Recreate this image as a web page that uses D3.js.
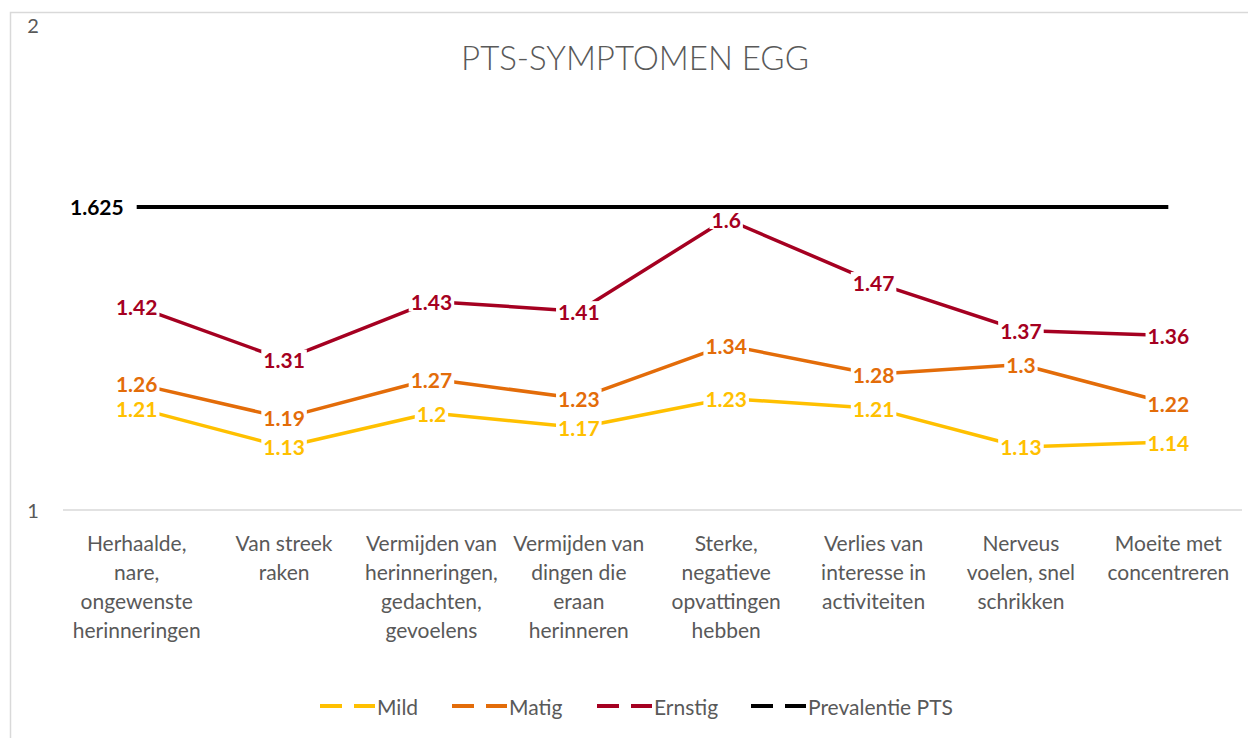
<!DOCTYPE html>
<html>
<head>
<meta charset="utf-8">
<script src="https://cdn.jsdelivr.net/npm/d3@7"></script>
<style>
body{margin:0;background:#fff;}
svg{display:block;font-family:Lato,'Open Sans',sans-serif;}
</style>
</head>
<body>
<div id="canvas"></div>
<script>
// category labels, already broken into lines as in the chart
let categories = [
	['Herhaalde,', 'nare,', 'ongewenste', 'herinneringen'],
	['Van streek', 'raken'],
	['Vermijden van', 'herinneringen,', 'gedachten,', 'gevoelens'],
	['Vermijden van', 'dingen die', 'eraan', 'herinneren'],
	['Sterke,', 'negatieve', 'opvattingen', 'hebben'],
	['Verlies van', 'interesse in', 'activiteiten'],
	['Nerveus', 'voelen, snel', 'schrikken'],
	['Moeite met', 'concentreren']
];
let mild = [1.21, 1.13, 1.2, 1.17, 1.23, 1.21, 1.13, 1.14],
matig = [1.26, 1.19, 1.27, 1.23, 1.34, 1.28, 1.3, 1.22],
ernstig = [1.42, 1.31, 1.43, 1.41, 1.6, 1.47, 1.37, 1.36],
prevalentie = [1.625, 1.625, 1.625, 1.625, 1.625, 1.625, 1.625, 1.625];
let yTicks = [1, 2];
let seriesNames = ['Mild', 'Matig', 'Ernstig', 'Prevalentie PTS'];

let W = 1248, H = 738,
colors = ['#ffc000', '#e36c09', '#a50021', '#000000'],
axisGray = '#595959';

let canvas = d3.select('#canvas').append('svg').attr('width', W).attr('height', H);

// chart border
canvas.append('rect')
.attr('x', 10.5).attr('y', 12.5)
.attr('width', W).attr('height', H)
.style('fill', 'white').style('stroke', '#d9d9d9').style('stroke-width', 1.5);

let x = d3.scaleBand().domain(d3.range(categories.length)).range([63, 1242]),
y = d3.scaleLinear().domain([1, 2]).range([510, 25]);

// title
canvas.append('text')
.attr('x', 635).attr('y', 57)
.attr('text-anchor', 'middle').attr('dominant-baseline', 'central')
.style('font-size', '33px').style('font-weight', 300).style('fill', axisGray)
.text('PTS-SYMPTOMEN EGG');

// y tick labels
canvas.selectAll('.ytick').data(yTicks).enter().append('text')
.attr('x', 33).attr('y', d=>y(d))
.attr('text-anchor', 'middle').attr('dominant-baseline', 'central')
.style('font-size', '20px').style('fill', axisGray)
.text(d=>d);

// category axis line
canvas.append('line')
.attr('x1', x.range()[0]).attr('x2', x.range()[1])
.attr('y1', y(1)).attr('y2', y(1))
.style('stroke', '#d9d9d9').style('stroke-width', 1.5);

// category labels
let cat = canvas.selectAll('.cat').data(categories).enter().append('text')
.attr('text-anchor', 'middle')
.style('font-size', '21px').style('fill', axisGray);
cat.each(function(lines, i){
	d3.select(this).selectAll('tspan').data(lines).enter().append('tspan')
	.attr('x', x(i) + x.bandwidth()/2)
	.attr('y', (d, j)=>542 + j * 29)
	.attr('dominant-baseline', 'central')
	.text(d=>d);
});

let series = [mild, matig, ernstig, prevalentie],
cx = i=>x(i) + x.bandwidth()/2;

let line = d3.line().x((d, i)=>cx(i)).y(d=>y(d));

canvas.selectAll('.serie').data(series).enter().append('path')
.attr('d', d=>line(d))
.style('fill', 'none')
.style('stroke', (d, i)=>colors[i])
.style('stroke-width', (d, i)=>i == 3 ? 4 : 3.5)
.style('stroke-linejoin', 'round');

// data labels with white background, centred on the points
function addLabel(px, py, txt, color, anchor){
	let g = canvas.append('g');
	let t = g.append('text')
	.attr('x', px).attr('y', py)
	.attr('text-anchor', anchor).attr('dominant-baseline', 'central')
	.style('font-size', '21px').style('font-weight', 700).style('fill', color)
	.text(txt);
	let b = t.node().getBBox();
	g.insert('rect', 'text')
	.attr('x', b.x - 2).attr('y', py - 10)
	.attr('width', b.width + 4).attr('height', 20)
	.style('fill', 'white');
}

[mild, matig, ernstig].forEach((s, k)=>{
	s.forEach((v, i)=>addLabel(cx(i), y(v), v, colors[k], 'middle'));
});
// prevalence value only on the first point, to its left
addLabel(cx(0) - 13, y(prevalentie[0]), prevalentie[0], colors[3], 'end');

// legend
let legendX = [320, 452, 597, 751];
let leg = canvas.selectAll('.legend').data(seriesNames).enter().append('g')
.attr('transform', (d, i)=>'translate(' + legendX[i] + ',706)');
leg.append('line').attr('x1', 0).attr('x2', 22).attr('y1', 0).attr('y2', 0)
.style('stroke', (d, i)=>colors[i]).style('stroke-width', 4);
leg.append('line').attr('x1', 34).attr('x2', 55).attr('y1', 0).attr('y2', 0)
.style('stroke', (d, i)=>colors[i]).style('stroke-width', 4);
leg.append('text').attr('x', 57).attr('y', 0)
.attr('dominant-baseline', 'central')
.style('font-size', '21px').style('fill', axisGray)
.text(d=>d);
</script>
</body>
</html>
